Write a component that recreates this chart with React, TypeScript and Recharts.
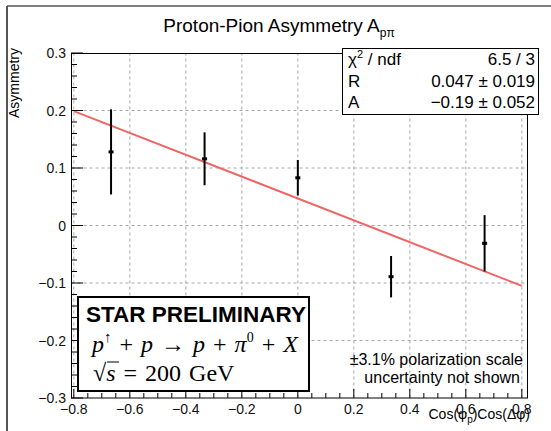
import React from 'react';
import { ComposedChart, XAxis, YAxis, Scatter } from 'recharts';

// measured points: cos(phi_p)cos(dphi) vs asymmetry
const cosValues = [-0.667, -0.333, 0, 0.333, 0.667];
const asymValues = [0.128, 0.116, 0.083, -0.089, -0.031];
const asymErrors = [0.074, 0.046, 0.031, 0.036, 0.049];

// fit parameters (R + A * x)
const fitR = 0.047;
const fitA = -0.19;
const fitRange = [-0.8, 0.8];

const xMajor = [-0.8, -0.6, -0.4, -0.2, 0, 0.2, 0.4, 0.6, 0.8];
const yMajor = [-0.3, -0.2, -0.1, 0, 0.1, 0.2, 0.3];
const xDomain: [number, number] = [-0.81, 0.822];
const yDomain: [number, number] = [-0.3, 0.3];
// grid lines stop just inside the frame
const gridXSpan = [-0.808, 0.82];
const gridYSpan = [-0.299, 0.299];

const points = cosValues.map((x, i) => ({ x, y: asymValues[i] }));
const errorSegs = cosValues.map((x, i) => [
  { x, y: asymValues[i] - asymErrors[i] },
  { x, y: asymValues[i] + asymErrors[i] },
]);
const fitPoints = fitRange.map((x) => ({ x, y: fitR + fitA * x }));

const vGrid = xMajor.map((v) => gridYSpan.map((y) => ({ x: v, y })));
const hGrid = yMajor.slice(1, -1).map((v) => gridXSpan.map((x) => ({ x, y: v })));

// minor ticks between the majors (4 per x division, 5 per y division)
const withMinor = (major: number[], n: number) => {
  const out: number[] = [];
  for (let i = 0; i < major.length - 1; i++) {
    const step = (major[i + 1] - major[i]) / n;
    for (let k = 0; k < n; k++) out.push(+(major[i] + k * step).toFixed(4));
  }
  out.push(major[major.length - 1]);
  return out;
};
const xTicks = withMinor(xMajor, 4);
const yTicks = withMinor(yMajor, 5);

const isMajor = (v: number, list: number[]) => list.some((m) => Math.abs(m - v) < 1e-6);
const fmt = (v: number) => (Math.abs(v) < 1e-9 ? '0' : v < 0 ? '\u2212' + Math.abs(v).toFixed(1) : v.toFixed(1));

const SANS = '"Liberation Sans", Arial, Helvetica, sans-serif';
const SERIF = '"Liberation Serif", "DejaVu Serif", serif';

const XTick = (props: any) => {
  const { x, y, payload } = props;
  const major = isMajor(payload.value, xMajor);
  return (
    <g>
      <line x1={x} y1={y} x2={x} y2={y - (major ? 9 : 5)} stroke="#000" strokeWidth={1} />
      {major && (
        <text x={x} y={y + 16} textAnchor="middle" fontSize={14} fontFamily={SANS} fill="#111">
          {fmt(payload.value)}
        </text>
      )}
    </g>
  );
};

const YTick = (props: any) => {
  const { x, y, payload } = props;
  const major = isMajor(payload.value, yMajor);
  return (
    <g>
      <line x1={x} y1={y} x2={x + (major ? 12 : 6)} y2={y} stroke="#000" strokeWidth={1} />
      {major && (
        <text x={x - 5} y={y + 5} textAnchor="end" fontSize={14} fontFamily={SANS} fill="#111">
          {fmt(payload.value)}
        </text>
      )}
    </g>
  );
};

const Marker = (p: any) => <rect x={p.cx - 2.5} y={p.cy - 1.5} width={5} height={3} fill="#000" />;
const NoShape = () => <g />;
const gridLine = { stroke: '#a8a8a8', strokeWidth: 1, strokeDasharray: '3 3' };
const errLine = { stroke: '#000', strokeWidth: 2 };

export default function App() {
  return (
    <div style={{ position: 'absolute', left: 0, top: 0, width: 551, height: 431, background: '#fff' }}>
      <ComposedChart width={551} height={431} margin={{ top: 53, right: 23, bottom: 0, left: 0 }}>
        <XAxis
          type="number"
          dataKey="x"
          domain={xDomain}
          allowDataOverflow
          ticks={xTicks}
          interval={0}
          tick={(p: any) => <XTick {...p} />}
          tickLine={false}
          axisLine={false}
          tickSize={0}
          tickMargin={0}
          height={33}
        />
        <YAxis
          type="number"
          dataKey="y"
          domain={yDomain}
          allowDataOverflow
          ticks={yTicks}
          interval={0}
          tick={(p: any) => <YTick {...p} />}
          tickLine={false}
          axisLine={false}
          tickSize={0}
          tickMargin={0}
          width={71}
        />
        {/* dotted grid */}
        {vGrid.map((seg, i) => (
          <Scatter key={'v' + i} data={seg} dataKey="y" line={gridLine} shape={NoShape} isAnimationActive={false} />
        ))}
        {hGrid.map((seg, i) => (
          <Scatter key={'h' + i} data={seg} dataKey="y" line={gridLine} shape={NoShape} isAnimationActive={false} />
        ))}
        <Scatter
          data={fitPoints}
          dataKey="y"
          line={{ stroke: '#f06464', strokeWidth: 2 }}
          shape={NoShape}
          isAnimationActive={false}
        />
        {/* vertical error bars */}
        {errorSegs.map((seg, i) => (
          <Scatter key={'e' + i} data={seg} dataKey="y" line={errLine} shape={NoShape} isAnimationActive={false} />
        ))}
        <Scatter data={points} dataKey="y" shape={Marker} isAnimationActive={false} />
      </ComposedChart>

      <svg
        width={551}
        height={431}
        style={{ position: 'absolute', left: 0, top: 0, pointerEvents: 'none' }}
      >
        {/* canvas border */}
        <line x1={7} y1={6} x2={7} y2={431} stroke="#555" strokeWidth={2} />
        <line x1={7} y1={6} x2={551} y2={6} stroke="#555" strokeWidth={1.5} />
        {/* frame */}
        <rect x={71.5} y={53.5} width={456} height={344.5} fill="none" stroke="#000" strokeWidth={1} />

        <text x={279} y={32} textAnchor="middle" fontSize={19} fontFamily={SANS} fill="#000">
          <tspan>Proton-Pion Asymmetry A</tspan>
          <tspan dy={5} fontSize={12}>pπ</tspan>
        </text>

        <text
          transform="translate(19,48) rotate(-90)"
          textAnchor="end"
          fontSize={14}
          fontFamily={SANS}
          fill="#000"
        >
          Asymmetry
        </text>

        <text x={530} y={419} textAnchor="end" fontSize={14} fontFamily={SANS} fill="#000">
          <tspan>Cos(φ</tspan>
          <tspan dy={4} fontSize={10}>p</tspan>
          <tspan dy={-4}>)Cos(Δφ)</tspan>
        </text>

        {/* fit statistics */}
        <rect x={342.5} y={48.5} width={196} height={66} fill="#fff" stroke="#000" strokeWidth={1} />
        <g fontFamily={SANS} fontSize={17} fill="#000">
          <text x={348} y={65}>
            <tspan>χ</tspan>
            <tspan dy={-7} fontSize={11}>2</tspan>
            <tspan dy={7}> / ndf</tspan>
          </text>
          <text x={535} y={65} textAnchor="end">6.5 / 3</text>
          <text x={348} y={87}>R</text>
          <text x={535} y={87} textAnchor="end">0.047 ± 0.019</text>
          <text x={348} y={108}>A</text>
          <text x={535} y={108} textAnchor="end">−0.19 ± 0.052</text>
        </g>

        {/* STAR label box */}
        <rect x={78} y={297} width={231} height={94} fill="#fff" stroke="#000" strokeWidth={2} />
        <text x={86} y={322} fontSize={22.5} fontWeight="bold" fontFamily={SANS} fill="#000">
          STAR PRELIMINARY
        </text>
        <text x={92} y={352} fontSize={24} fontFamily={SERIF} fill="#000" wordSpacing={2}>
          <tspan fontStyle="italic">p</tspan>
          <tspan dy={-10} fontSize={15}>↑</tspan>
          <tspan dy={10}> + </tspan>
          <tspan fontStyle="italic">p</tspan>
          <tspan> → </tspan>
          <tspan fontStyle="italic">p</tspan>
          <tspan> + </tspan>
          <tspan fontStyle="italic">π</tspan>
          <tspan dy={-10} fontSize={14}>0</tspan>
          <tspan dy={10}> + </tspan>
          <tspan fontStyle="italic">X</tspan>
        </text>
        <text x={93} y={381} fontSize={24} fontFamily={SERIF} fill="#000" wordSpacing={2}>
          <tspan>√</tspan>
          <tspan fontStyle="italic">s</tspan>
          <tspan> = 200 GeV</tspan>
        </text>
        <line x1={107} y1={362} x2={119} y2={362} stroke="#000" strokeWidth={1} />

        <g fontFamily={SANS} fontSize={16} fill="#000" textAnchor="end">
          <text x={523} y={365}>±3.1% polarization scale</text>
          <text x={520} y={383}>uncertainty not shown</text>
        </g>
      </svg>
    </div>
  );
}
